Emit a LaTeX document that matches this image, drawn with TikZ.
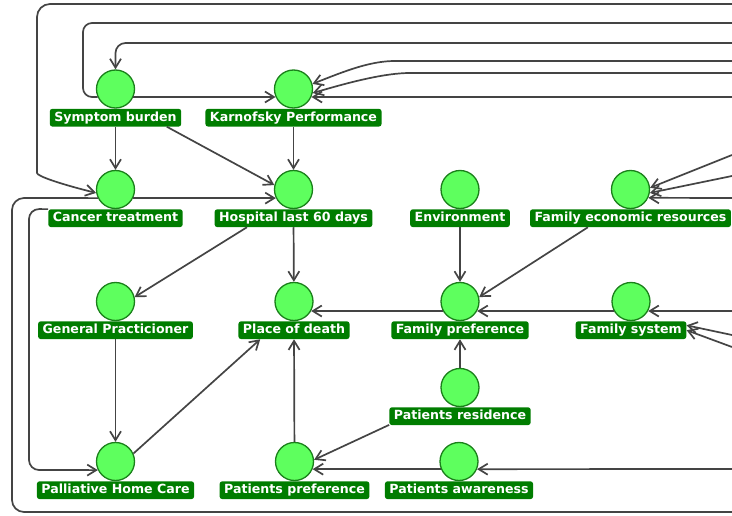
\documentclass[tikz,border=0pt]{standalone}
\usepackage{tikz}
\usepackage{xcolor}
\usepackage{fontspec}
\setmainfont{DejaVu Sans}
\usetikzlibrary{arrows.meta,positioning}

\definecolor{nodegreen}{RGB}{94,255,94}
\definecolor{rimgreen}{RGB}{26,128,26}
\definecolor{taggreen}{RGB}{0,125,0}
\definecolor{linkgray}{RGB}{68,68,68}

\begin{document}
\begin{tikzpicture}[x=1pt, y=-1pt,
  var/.style={circle, draw=rimgreen, line width=1.3pt, fill=nodegreen,
    minimum size=38pt, inner sep=0pt},
  tag/.style={fill=taggreen, rounded corners=2.5pt, text=white,
    font=\fontsize{12.6}{14}\selectfont\bfseries, inner xsep=4.5pt,
    inner ysep=2.7pt, text height=9.5pt, text depth=2.8pt},
  link/.style={draw=linkgray, line width=1.7pt,
    -{Straight Barb[length=9pt, width=11pt, line width=1.7pt]}},
  loop/.style={draw=linkgray, line width=1.7pt}]
  \useasboundingbox (0,0) rectangle (732,516);

  % Draw the variables with their tags
  \node[var] (sb) at (115.5,89) {};
  \node[tag, below=0pt of sb] (sbl) {Symptom burden};
  \node[var] (kp) at (293.5,89) {};
  \node[tag, below=0pt of kp] (kpl) {Karnofsky Performance};
  \node[var] (ct) at (115.5,189.5) {};
  \node[tag, below=0pt of ct] (ctl) {Cancer treatment};
  \node[var] (hs) at (293.5,189.5) {};
  \node[tag, below=0pt of hs] (hsl) {Hospital last 60 days};
  \node[var] (en) at (460,189.5) {};
  \node[tag, below=0pt of en] (enl) {Environment};
  \node[var] (fe) at (630.5,189.5) {};
  \node[tag, below=0pt of fe] (fel) {Family economic resources};
  \node[var] (gp) at (115.5,301.5) {};
  \node[tag, below=0pt of gp] (gpl) {General Practicioner};
  \node[var] (pd) at (294,301.5) {};
  \node[tag, below=0pt of pd] (pdl) {Place of death};
  \node[var] (fp) at (460,301.5) {};
  \node[tag, below=0pt of fp] (fpl) {Family preference};
  \node[var] (fs) at (631,301.5) {};
  \node[tag, below=0pt of fs] (fsl) {Family system};
  \node[var] (pr) at (460,387.5) {};
  \node[tag, below=0pt of pr] (prl) {Patients residence};
  \node[var] (hc) at (115.5,461.5) {};
  \node[tag, below=0pt of hc] (hcl) {Palliative Home Care};
  \node[var] (pp) at (294.5,461.5) {};
  \node[tag, below=0pt of pp] (ppl) {Patients preference};
  \node[var] (pa) at (459,461.5) {};
  \node[tag, below=0pt of pa] (pal) {Patients awareness};

  % Free ends at the right border
  \coordinate (r1) at (732,4);
  \coordinate (r2) at (732,23);
  \coordinate (r3) at (732,43);
  \coordinate (r4) at (732,61);
  \coordinate (r5) at (732,73);
  \coordinate (r6) at (732,97);
  \coordinate (r7) at (732,155);
  \coordinate (r8) at (732,176);
  \coordinate (r9) at (732,198);
  \coordinate (r10) at (732,311);
  \coordinate (r11) at (732,335);
  \coordinate (r12) at (732,347);
  \coordinate (r13) at (732,469);
  \coordinate (r14) at (732,512);

  % Links inside the picture
  \draw[link] (sbl) -- (ct);
  \draw[link] (sbl.-10) -- (hs.167);
  \draw[link] (sb.-24) -- (kp.204);
  \draw[link] (kpl) -- (hs);
  \draw[link] (ct.-26) -- (hs.206);
  \draw[link] (hsl.191) -- (gp.13);
  \draw[link] (hsl) -- (pd);
  \draw[link] (gpl) -- (hc);
  \draw[link] (hc.24) -- (pdl.195);
  \draw[link] (pp) -- (pdl);
  \draw[link] (fp.209) -- (pd.-29);
  \draw[link] (fs.209) -- (fp.-29);
  \draw[link] (enl) -- (fp);
  \draw[link] (fel.192) -- (fp.13);
  \draw[link] (pr) -- (fpl);
  \draw[link] (prl.187) -- (pp.5);
  \draw[link] (pa.203) -- (pp.-23);
  \draw[link, rounded corners=10pt] (ctl.north west) -- (29,209) -- (29,470) -- (hc.206);

  % Links coming in from the right
  \draw[link, rounded corners=13pt] (r1) -- (37,4) -- (37,160)
    .. controls (37,176) and (60,184) .. (ct.190);
  \draw[loop, rounded corners=9pt] (r2) -- (83,23) -- (83,97) -- (sb.204);
  \draw[link, rounded corners=10pt] (r3) -- (115.5,43) -- (sb.north);
  \draw[link] (r4) -- (395,61) .. controls (370,61) and (345,71) .. (kp.15);
  \draw[link] (r5) -- (410,73) .. controls (385,73) and (350,82) .. (kp.-12);
  \draw[link] (r6) -- (kp.-24);
  \draw[link] (r7) -- (fe.5);
  \draw[link] (r8) -- (fe.-10);
  \draw[link] (r9) -- (fe.-25);
  \draw[link] (r10) -- (fs.-29);
  \draw[link] (r11) -- (fsl.5);
  \draw[link] (r12) -- (fsl.east);
  \draw[link] (r13) -- (pa.-23);
  \draw[loop, rounded corners=12pt] (r14) -- (12,512) -- (12,198) -- (ct.206);
\end{tikzpicture}
\end{document}
